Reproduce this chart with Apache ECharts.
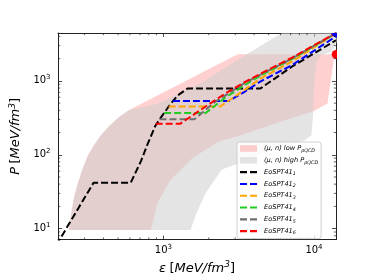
<!DOCTYPE html>
<html><head><meta charset="utf-8">
<script src="https://cdn.jsdelivr.net/npm/echarts@6/dist/echarts.min.js"></script>
<style>html,body{margin:0;padding:0;background:#fff}#c{width:374px;height:280px}</style>
</head><body><div id="c"></div>
<script>
// axis ranges
const epsMin = 200, epsMax = 14000, pMin = 7.1, pMax = 4450;
// minor tick values (log axes)
const xMinorTicks = [300,400,500,600,700,800,900,2000,3000,4000,5000,6000,7000,8000,9000];
const yMinorTicks = [8,9,20,30,40,50,60,70,80,90,200,300,400,500,600,700,800,900,2000,3000,4000];

// (mu,n) constraint regions, boundary polygons [eps, P]
const lowBand = [[236,9.57],[244,15.7],[255,26.1],[270,40.9],[291,64.2],[313,94.7],[347,135.7],[385,183],[439,247],[509,323.5],[589,399],[724,499],[3115,2288],[13700,2288],[12296,496],[9908,387],[6468,296],[3275,183],[2322,150],[1570,91.1],[1113,45.2],[916,22.5],[826,9.57]];
const highBand = [[236,9.57],[244,15.7],[255,26.1],[270,40.9],[291,64.2],[313,94.7],[347,135.7],[385,183],[439,247],[509,323.5],[589,399],[916,492],[1800,951],[3474,2200],[6100,4450],[17320,4450],[14950,3967],[13000,2480],[11145,2234],[10354,1731],[10053,951],[9908,522],[9865,354],[9621,183],[8679,157.6],[6661,135.7],[4613,106.8],[3275,78.4],[2441,63],[1910,30.3],[1649,15.7],[1516,9.57]];

// EoS curves [eps, P]
const eos1 = [[195,6.0],[344,41.8],[607,41.8],[710,82],[782,136],[885,247],[929,287],[1104,473],[1247,638],[1444,787],[4395,787],[7170,1568],[14000,3550]];
const eos2 = [[1158,533],[2718,533],[3436,705],[4395,979],[7170,1645],[14000,4005]];
const eos3 = [[1084,450],[2381,450],[3436,748],[4395,1072],[7170,1838],[14000,4400]];
const eos4 = [[1012,368],[1910,368],[2563,589],[3436,869],[4395,1173],[7170,1981],[14000,4430]];
const eos5 = [[943,302],[1608,302],[2212,522],[3436,923],[4395,1208],[7170,2011],[14000,4440]];
const eos6 = [[889,262],[1290,262],[1910,450],[2563,670],[3436,951],[4395,1245],[7170,2072],[14000,4450]];
// end points (pQCD)
const endBlue = [14000,4450];
const endRed = [14000,2288];

const eosNames = ['eos1','eos2','eos3','eos4','eos5','eos6'];
const eosData = [eos1,eos2,eos3,eos4,eos5,eos6];
const eosColors = ['#000000','#0000ff','#ffa500','#22cc22','#707070','#ff0000'];
const legendLabels = {
  low: '{t|(μ, n) low }{t|P}{s|pQCD}',
  high: '{t|(μ, n) high }{t|P}{s|pQCD}',
  eos1: '{t|EoSPT41}{s|1}', eos2: '{t|EoSPT41}{s|2}', eos3: '{t|EoSPT41}{s|3}',
  eos4: '{t|EoSPT41}{s|4}', eos5: '{t|EoSPT41}{s|5}', eos6: '{t|EoSPT41}{s|6}'
};
const PINK = 'rgba(255,0,0,0.184)';
const GREY = 'rgba(205,205,205,0.55)';
const dashIcon = 'path://M0,0M0,2.25h7v2.1h-7zM10,2.25h7v2.1h-7zM17,6.5';

const FF = 'DejaVu Sans';
function bandSeries(name, pts, color, z) {
  return {
    type: 'custom', name: name, coordinateSystem: 'cartesian2d', clip: true, silent: true, z: z,
    itemStyle: { color: color },
    data: [pts[0]],
    renderItem: function (params, api) {
      return { type: 'polygon', shape: { points: pts.map(p => api.coord(p)) }, style: { fill: color } };
    }
  };
}
function dotSeries(pt, color) {
  return {
    type: 'custom', coordinateSystem: 'cartesian2d', clip: true, silent: true, z: 12,
    data: [pt],
    renderItem: function (params, api) {
      const c = api.coord([api.value(0), api.value(1)]);
      return { type: 'circle', shape: { cx: c[0], cy: c[1], r: 4.3 }, style: { fill: color } };
    }
  };
}
function minorTickSeries(vals, isX) {
  return {
    type: 'custom', coordinateSystem: 'cartesian2d', clip: false, silent: true, z: 20,
    data: vals.map(v => isX ? [v, pMin] : [epsMin, v]),
    renderItem: function (params, api) {
      const v = isX ? api.value(0) : api.value(1);
      const a = isX ? api.coord([v, pMin]) : api.coord([epsMin, v]);
      const b = isX ? api.coord([v, pMax]) : api.coord([epsMax, v]);
      const L = 2.2, st = { stroke: '#222', lineWidth: 0.7 };
      const ch = isX ? [
        { type: 'line', shape: { x1: a[0], y1: a[1], x2: a[0], y2: a[1] - L }, style: st },
        { type: 'line', shape: { x1: b[0], y1: b[1], x2: b[0], y2: b[1] + L }, style: st }
      ] : [
        { type: 'line', shape: { x1: a[0], y1: a[1], x2: a[0] + L, y2: a[1] }, style: st },
        { type: 'line', shape: { x1: b[0], y1: b[1], x2: b[0] - L, y2: b[1] }, style: st }
      ];
      return { type: 'group', children: ch };
    }
  };
}
const tickRich = {
  b: { fontSize: 10, fontFamily: FF, color: '#000', lineHeight: 14 },
  p: { fontSize: 7, fontFamily: FF, color: '#000', lineHeight: 6, verticalAlign: 'top' }
};
const fmt = v => '{b|10}{p|' + Math.round(Math.log10(v)) + '}';
const axisCommon = {
  type: 'log', logBase: 10,
  axisLine: { show: true, onZero: false, lineStyle: { color: '#222', width: 1 } },
  axisTick: { show: true, inside: true, length: 4, lineStyle: { color: '#222', width: 0.8 } },
  minorTick: { show: false },
  splitLine: { show: false }, minorSplitLine: { show: false }
};
const nameRich = {
  i: { fontSize: 13, fontFamily: FF, fontStyle: 'italic', color: '#000', lineHeight: 16 },
  n: { fontSize: 13, fontFamily: FF, color: '#000', lineHeight: 16 },
  u: { fontSize: 9, fontFamily: FF, fontStyle: 'italic', color: '#000', lineHeight: 9, verticalAlign: 'top' }
};

const series = [
  bandSeries('low', lowBand, PINK, 1),
  bandSeries('high', highBand, GREY, 2)
];
eosData.forEach((d, i) => series.push({
  type: 'line', name: eosNames[i], data: d, symbol: 'none', showSymbol: false, clip: true, z: 3 + i,
  lineStyle: { color: eosColors[i], width: 2, type: [7, 3] }, itemStyle: { color: eosColors[i] }
}));
series.push(dotSeries(endBlue, '#0000ff'));
series.push(dotSeries(endRed, '#ff0000'));
series.push(minorTickSeries(xMinorTicks, true));
series.push(minorTickSeries(yMinorTicks, false));

const chart = echarts.init(document.getElementById('c'), null, { renderer: 'canvas' });
chart.setOption({
  animation: false,
  backgroundColor: '#fff',
  grid: { left: 46, top: 33, width: 290, height: 216 },
  xAxis: [
    Object.assign({}, axisCommon, {
      position: 'bottom', min: epsMin, max: epsMax,
      axisLabel: { formatter: fmt, rich: tickRich, margin: 4, showMinLabel: false, showMaxLabel: false },
      name: '{i|ε} {n|[}{i|MeV/fm}{u|3}{n|]}', nameLocation: 'middle', nameGap: 17,
      nameTextStyle: { rich: nameRich }
    }),
    Object.assign({}, axisCommon, {
      position: 'top', min: epsMin, max: epsMax, axisLabel: { show: false }
    })
  ],
  yAxis: [
    Object.assign({}, axisCommon, {
      position: 'left', min: pMin, max: pMax,
      axisLabel: { formatter: fmt, rich: tickRich, margin: 7.5, showMinLabel: false, showMaxLabel: false },
      name: '{i|P} {n|[}{i|MeV/fm}{u|3}{n|]}', nameLocation: 'middle', nameGap: 26, nameRotate: 90,
      nameTextStyle: { rich: nameRich }
    }),
    Object.assign({}, axisCommon, {
      position: 'right', min: pMin, max: pMax, axisLabel: { show: false }
    })
  ],
  legend: {
    orient: 'vertical', left: 237, top: 142, z: 30,
    data: [
      { name: 'low', icon: 'rect', itemStyle: { color: PINK } },
      { name: 'high', icon: 'rect', itemStyle: { color: GREY } }
    ].concat(eosNames.map((n, i) => ({ name: n, icon: dashIcon, itemStyle: { color: eosColors[i] } }))),
    itemWidth: 17, itemHeight: 6.5, itemGap: 3.8,
    padding: [3, 3, 3, 3],
    backgroundColor: 'rgba(255,255,255,0.8)', borderColor: '#cfcfcf', borderWidth: 1, borderRadius: 2.5,
    selectedMode: false,
    formatter: n => legendLabels[n],
    textStyle: {
      padding: [0, 0, 0, 2],
      rich: {
        t: { fontSize: 6.6, fontFamily: FF, fontStyle: 'italic', color: '#000', lineHeight: 9 },
        s: { fontSize: 4.8, fontFamily: FF, fontStyle: 'italic', color: '#000', lineHeight: 5, verticalAlign: 'bottom' }
      }
    }
  },
  series: series
});
</script></body></html>
